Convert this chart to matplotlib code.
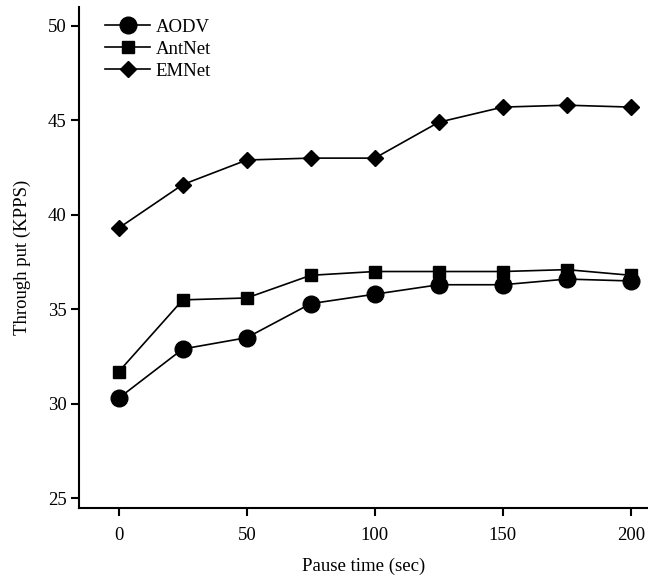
import matplotlib
matplotlib.use("Agg")
import matplotlib.pyplot as plt

plt.rcParams['font.family'] = ['Liberation Serif', 'DejaVu Serif']

pause = [0, 25, 50, 75, 100, 125, 150, 175, 200]
aodv = [30.3, 32.9, 33.5, 35.3, 35.8, 36.3, 36.3, 36.6, 36.5]
antnet = [31.7, 35.5, 35.6, 36.8, 37.0, 37.0, 37.0, 37.1, 36.8]
emnet = [39.3, 41.6, 42.9, 43.0, 43.0, 44.9, 45.7, 45.8, 45.7]

fig = plt.figure(figsize=(6.48, 5.77), dpi=100)
ax = fig.add_axes([0.122, 0.12, 0.878, 0.868])

lw = 1.2
ax.plot(pause, aodv, color='black', lw=lw, marker='o', ms=12, label='AODV')
ax.plot(pause, antnet, color='black', lw=lw, marker='s', ms=8.5, label='AntNet')
ax.plot(pause, emnet, color='black', lw=lw, marker='D', ms=8.5, label='EMNet')

ax.set_xlim(-15.5, 206.7)
ax.set_ylim(24.5, 51)
ax.set_xticks([0, 50, 100, 150, 200])
ax.set_yticks([25, 30, 35, 40, 45, 50])
for s in ['top', 'right']:
    ax.spines[s].set_visible(False)
for s in ['left', 'bottom']:
    ax.spines[s].set_linewidth(1.5)
ax.tick_params(direction='out', length=6, width=1.5, labelsize=13.5)
ax.tick_params(axis='x', pad=8)
ax.tick_params(axis='y', pad=3)

ax.set_xlabel('Pause time (sec)', fontsize=13.5, labelpad=10)
ax.set_ylabel('Through put (KPPS)', fontsize=13.5, labelpad=12)

ax.legend(loc='upper left', bbox_to_anchor=(0.016, 1.01), frameon=False,
          fontsize=13.5, handlelength=2.4, handletextpad=0.3, labelspacing=0.25)

fig.savefig('out.png', dpi=100)
